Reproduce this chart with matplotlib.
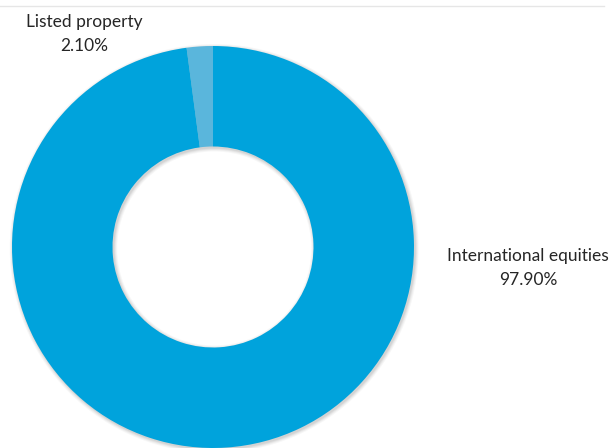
import matplotlib
matplotlib.use("Agg")
import matplotlib.pyplot as plt
from matplotlib.patches import Wedge

categories = ["Listed property", "International equities"]
values = [2.10, 97.90]
colors = ["#5ab6dc", "#00a3dc"]

W, H = 615, 448
fig = plt.figure(figsize=(W / 100, H / 100), dpi=100)
ax = fig.add_axes([0, 0, 1, 1])

cx, cy, R = 213, H - 247, 201

# soft shadow
for i, a in enumerate([0.06, 0.05, 0.04, 0.03]):
    ax.add_patch(Wedge((cx + 1.2, cy - 1.5), R + 0.5 + i, 0, 360, width=R * 0.5 + 1 + 2 * i,
                       facecolor="#000000", alpha=a, edgecolor="none", zorder=1))

wedges, _ = ax.pie(values, colors=colors, startangle=90, counterclock=True,
                   center=(cx, cy), radius=R,
                   wedgeprops=dict(width=R * 0.5, edgecolor="none"), frame=True)
for w in wedges:
    w.set_zorder(2)
ax.set_xlim(0, W)
ax.set_ylim(0, H)
ax.set_aspect("equal")
ax.axis("off")

ax.plot([0, 604], [H - 6, H - 6], color="#e6e6e6", lw=1, zorder=0)

font = dict(family="Lato", fontsize=12.5, color="#262626", ha="center", va="center")
ax.text(84, H - 22, categories[0], **font)
ax.text(84, H - 46, f"{values[0]:.2f}%", **font)
ax.text(528, H - 256, categories[1], **font)
ax.text(528, H - 280, f"{values[1]:.2f}%", **font)

fig.savefig("out.png", dpi=100)
